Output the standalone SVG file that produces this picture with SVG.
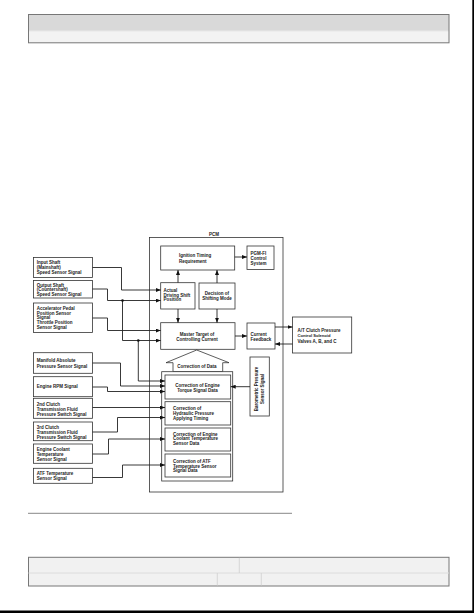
<svg xmlns="http://www.w3.org/2000/svg" width="474" height="613" viewBox="0 0 474 613">
<style>
.bx{fill:#fff;stroke:#333;stroke-width:0.8}
.t{font-family:"Liberation Sans",Arial,sans-serif;font-weight:bold;font-size:4.5px;fill:#1a1a1a}
.tc{text-anchor:middle}
.cn{fill:none;stroke:#222;stroke-width:0.9}
.ar{marker-end:url(#ah)}
</style>
<defs>
<marker id="ah" markerWidth="5" markerHeight="4" refX="5" refY="2" orient="auto" markerUnits="userSpaceOnUse"><path d="M0,0 L5,2 L0,4 z" fill="#111"/></marker>
</defs>
<rect x="0" y="0" width="474" height="613" fill="#fff"/>
<rect x="472.3" y="0" width="1.7" height="613" fill="#000"/>
<rect x="0" y="610.5" width="474" height="2.5" fill="#000"/>

<g id="header">
<rect x="28.5" y="14.5" width="420.5" height="16.5" fill="#d9d9d9"/>
<rect x="28.5" y="31" width="420.5" height="11.8" fill="#f3f3f3"/>
<line x1="28.5" y1="31" x2="449" y2="31" stroke="#e8e8e8" stroke-width="1"/>
<rect x="28.5" y="14.5" width="420.5" height="28.3" fill="none" stroke="#777" stroke-width="1"/>
</g>

<g id="pcm">
<rect class="bx" x="149.5" y="237.5" width="133.5" height="254.5" fill="none"/>
<text class="t tc" x="214" y="236">PCM</text>
</g>

<g id="ignition">
<rect class="bx" x="160.7" y="246" width="74" height="24"/>
<text class="t"><tspan x="179" y="257.3">Ignition Timing</tspan><tspan x="179" y="262.5">Requirement</tspan></text>
</g>
<g id="pgmfi">
<rect class="bx" x="247" y="246" width="27" height="23.5"/>
<text class="t"><tspan x="250.5" y="254.5">PGM-FI</tspan><tspan x="250.5" y="259.5">Control</tspan><tspan x="250.5" y="264.5">System</tspan></text>
</g>
<g id="actual">
<rect class="bx" x="160.7" y="282.7" width="34.3" height="26.3"/>
<text class="t"><tspan x="163.5" y="292">Actual</tspan><tspan x="163.5" y="296.7">Driving Shift</tspan><tspan x="163.5" y="301.4">Position</tspan></text>
</g>
<g id="decision">
<rect class="bx" x="199" y="283" width="36" height="26"/>
<text class="t tc"><tspan x="217" y="294.8">Decision of</tspan><tspan x="217" y="299.8">Shifting Mode</tspan></text>
</g>
<g id="master">
<rect class="bx" x="160.7" y="322.7" width="74.3" height="26.6"/>
<text class="t tc"><tspan x="197" y="336.3">Master Target of</tspan><tspan x="197" y="341">Controlling Current</tspan></text>
</g>
<g id="feedback">
<rect class="bx" x="247" y="323" width="28" height="26"/>
<text class="t"><tspan x="250.5" y="336">Current</tspan><tspan x="250.5" y="340.8">Feedback</tspan></text>
</g>
<g id="solenoid">
<rect class="bx" x="292.5" y="317" width="59.2" height="36"/>
<text class="t"><tspan x="297.5" y="331.5">A/T Clutch Pressure</tspan><tspan x="297.5" y="336.5" style="font-size:4.1px">Control Solenoid</tspan><tspan x="297.5" y="342.5">Valves A, B, and C</tspan></text>
</g>
<g id="correction-data">
<polygon points="173,371.7 173,362.7 166,362.7 196.7,350 229,362.7 222.7,362.7 222.7,371.7" fill="#fff" stroke="#333" stroke-width="0.8"/>
<text class="t tc" x="197" y="368">Correction of Data</text>
</g>
<g id="correction-group">
<rect class="bx" x="161.7" y="371.7" width="71" height="109.3"/>
</g>
<g id="corr-torque">
<rect class="bx" x="165" y="375" width="65.7" height="24"/>
<text class="t tc"><tspan x="197.5" y="387.3">Correction of Engine</tspan><tspan x="197.5" y="392.3">Torque Signal Data</tspan></text>
</g>
<g id="corr-hydraulic">
<rect class="bx" x="165" y="401.7" width="65.7" height="23.3"/>
<text class="t"><tspan x="173" y="410">Correction of</tspan><tspan x="173" y="414.8">Hydraulic Pressure</tspan><tspan x="173" y="419.8">Applying Timing</tspan></text>
</g>
<g id="corr-coolant">
<rect class="bx" x="165" y="428" width="65.7" height="23"/>
<text class="t"><tspan x="173" y="435.6">Correction of Engine</tspan><tspan x="173" y="440.4">Coolant Temperature</tspan><tspan x="173" y="445.4">Sensor Data</tspan></text>
</g>
<g id="corr-atf">
<rect class="bx" x="165" y="454" width="65.7" height="23"/>
<text class="t"><tspan x="173" y="462.6">Correction of ATF</tspan><tspan x="173" y="467.5">Temperature Sensor</tspan><tspan x="173" y="472.4">Signal Data</tspan></text>
</g>
<g id="barometric">
<rect class="bx" x="250" y="357" width="19.3" height="59"/>
<text class="t tc" transform="translate(257.5,389) rotate(-90)"><tspan x="0" y="0">Barometric Pressure</tspan><tspan x="0" y="6">Sensor Signal</tspan></text>
</g>

<g id="s-input">
<rect class="bx" x="33.5" y="257.5" width="59" height="20"/>
<text class="t"><tspan x="36.7" y="263.8">Input Shaft</tspan><tspan x="36.7" y="268.8">(Mainshaft)</tspan><tspan x="36.7" y="273.8">Speed Sensor Signal</tspan></text>
</g>
<g id="s-output">
<rect class="bx" x="33.5" y="280.5" width="59" height="17.5"/>
<text class="t"><tspan x="36.7" y="286.6">Output Shaft</tspan><tspan x="36.7" y="291.3">(Countershaft)</tspan><tspan x="36.7" y="296">Speed Sensor Signal</tspan></text>
</g>
<g id="s-accel">
<rect class="bx" x="33.5" y="303" width="59" height="29.5"/>
<text class="t"><tspan x="36.7" y="309.6">Accelerator Pedal</tspan><tspan x="36.7" y="314.5">Position Sensor</tspan><tspan x="36.7" y="319.4">Signal</tspan><tspan x="36.7" y="324.3">Throttle Position</tspan><tspan x="36.7" y="329.2">Sensor Signal</tspan></text>
</g>
<g id="s-manifold">
<rect class="bx" x="33.5" y="352.7" width="59" height="20.6"/>
<text class="t"><tspan x="36.7" y="362.3">Manifold Absolute</tspan><tspan x="36.7" y="367.6">Pressure Sensor Signal</tspan></text>
</g>
<g id="s-rpm">
<rect class="bx" x="33.5" y="376.7" width="59" height="20"/>
<text class="t" x="36.7" y="388.4">Engine RPM Signal</text>
</g>
<g id="s-2nd">
<rect class="bx" x="33.5" y="398.3" width="59" height="20"/>
<text class="t"><tspan x="36.7" y="405.6">2nd Clutch</tspan><tspan x="36.7" y="410.6">Transmission Fluid</tspan><tspan x="36.7" y="415.6">Pressure Switch Signal</tspan></text>
</g>
<g id="s-3rd">
<rect class="bx" x="33.5" y="422" width="59" height="18.7"/>
<text class="t"><tspan x="36.7" y="428.8">3rd Clutch</tspan><tspan x="36.7" y="433.8">Transmission Fluid</tspan><tspan x="36.7" y="438.6">Pressure Switch Signal</tspan></text>
</g>
<g id="s-coolant">
<rect class="bx" x="33.5" y="444" width="59" height="19.3"/>
<text class="t"><tspan x="36.7" y="451.2">Engine Coolant</tspan><tspan x="36.7" y="456">Temperature</tspan><tspan x="36.7" y="460.8">Sensor Signal</tspan></text>
</g>
<g id="s-atf">
<rect class="bx" x="33.5" y="468.3" width="59" height="15"/>
<text class="t"><tspan x="36.7" y="475.2">ATF Temperature</tspan><tspan x="36.7" y="480.1">Sensor Signal</tspan></text>
</g>

<g id="connectors">
<path class="cn ar" d="M92.5,267.5 H121.5 V290 H160.7"/>
<path class="cn ar" d="M92.5,289 H107.5 V300.5 H160.7"/>
<path class="cn ar" d="M122.5,300.5 V340.5 H160.7"/>
<path class="cn ar" d="M92.5,318 H107.5 V330.5 H160.7"/>
<path class="cn ar" d="M138.3,340.5 V381 H165"/>
<path class="cn ar" d="M92.5,363 H120.5 V386 H165"/>
<path class="cn ar" d="M92.5,387 H107.5 V391.5 H165"/>
<path class="cn ar" d="M92.5,407.5 H165"/>
<path class="cn ar" d="M92.5,432 H117.5 V417.5 H165"/>
<path class="cn ar" d="M92.5,454 H108.5 V439 H165"/>
<path class="cn ar" d="M92.5,477.5 H122.5 V465 H165"/>
<circle cx="122.5" cy="300.5" r="1.3" fill="#111"/>
<circle cx="138.3" cy="340.5" r="1.3" fill="#111"/>
<path class="cn ar" d="M234.7,257 H247"/>
<path class="cn ar" d="M178,282.7 V270"/>
<path class="cn ar" d="M217,283 V270"/>
<path class="cn ar" d="M178,309 V322.7"/>
<path class="cn ar" d="M217,309 V322.7"/>
<path class="cn ar" d="M235,336 H247"/>
<path class="cn ar" d="M275,327 H292.5"/>
<path class="cn ar" d="M292.5,344 H275"/>
<path class="cn ar" d="M250,386.7 H230.7"/>
</g>

<line x1="28" y1="513.3" x2="292" y2="513.3" stroke="#888" stroke-width="1"/>

<g id="footer">
<rect x="28.5" y="557.3" width="420.5" height="28.7" fill="#f1f1f1" stroke="#777" stroke-width="1"/>
<line x1="28.5" y1="573" x2="449" y2="573" stroke="#dcdcdc" stroke-width="1"/>
<line x1="239.3" y1="557.8" x2="239.3" y2="573" stroke="#cfcfcf" stroke-width="0.8"/>
<line x1="217.3" y1="573" x2="217.3" y2="585.5" stroke="#cfcfcf" stroke-width="0.8"/>
<line x1="261.3" y1="573" x2="261.3" y2="585.5" stroke="#cfcfcf" stroke-width="0.8"/>
</g>
</svg>
